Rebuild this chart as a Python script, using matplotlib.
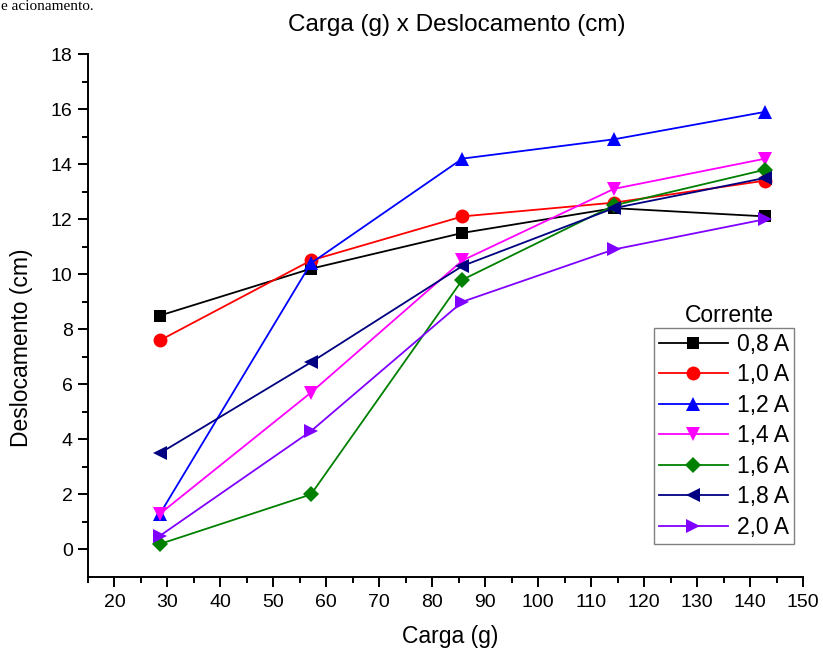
import matplotlib
matplotlib.use("Agg")
import matplotlib.pyplot as plt
from matplotlib.ticker import FixedLocator

plt.rcParams['font.family'] = ['Liberation Sans', 'DejaVu Sans']

carga = [28.6, 57.1, 85.7, 114.3, 142.9]
correntes = ['0,8 A', '1,0 A', '1,2 A', '1,4 A', '1,6 A', '1,8 A', '2,0 A']
d_08 = [8.5, 10.2, 11.5, 12.4, 12.1]
d_10 = [7.6, 10.5, 12.1, 12.6, 13.4]
d_12 = [1.3, 10.4, 14.2, 14.9, 15.9]
d_14 = [1.3, 5.7, 10.5, 13.1, 14.2]
d_16 = [0.2, 2.0, 9.8, 12.5, 13.8]
d_18 = [3.5, 6.8, 10.3, 12.4, 13.5]
d_20 = [0.5, 4.3, 9.0, 10.9, 12.0]
series = [d_08, d_10, d_12, d_14, d_16, d_18, d_20]

colors = ['#000000', '#FF0000', '#0000FF', '#FF00FF', '#008000', '#000080', '#8000FF']
markers = ['s', 'o', '^', 'v', 'D', '<', '>']
msizes = [8, 10, 10.5, 10.5, 8.5, 10.5, 10.5]

W, H = 823, 655
fig = plt.figure(figsize=(W / 100, H / 100), dpi=100)
ax = fig.add_axes([88 / W, 1 - 577 / H, (803 - 88) / W, (577 - 54) / H])

for lab, ys, c, m, ms in zip(correntes, series, colors, markers, msizes):
    ax.plot(carga, ys, color=c, marker=m, markersize=ms, linewidth=1.3,
            markeredgewidth=0, label=lab, clip_on=False)

ax.set_xlim(15, 150)
ax.set_ylim(-1, 18)
ax.xaxis.set_major_locator(FixedLocator(list(range(20, 151, 10))))
ax.xaxis.set_minor_locator(FixedLocator(list(range(15, 151, 10))))
ax.yaxis.set_major_locator(FixedLocator(list(range(0, 19, 2))))
ax.yaxis.set_minor_locator(FixedLocator(list(range(1, 18, 2))))

for s in ['top', 'right']:
    ax.spines[s].set_visible(False)
for s in ['left', 'bottom']:
    ax.spines[s].set_linewidth(1.4)

ax.tick_params(axis='both', which='major', direction='out', length=7, width=1.4,
               labelsize=14, pad=4)
ax.tick_params(axis='x', which='major', pad=5)
ax.tick_params(axis='both', which='minor', direction='out', length=4, width=1.4)

ax.set_xlabel('Carga (g)', fontsize=16.5)
ax.xaxis.set_label_coords((450 - 88) / (803 - 88), -(637 - 577) / (577 - 54))
ax.set_ylabel('Deslocamento (cm)', fontsize=16.5)
ax.yaxis.set_label_coords(-(88 - 22) / (803 - 88), (577 - 348) / (577 - 54))
ax.yaxis.label.set_verticalalignment('center')
ax.xaxis.label.set_verticalalignment('center')

fig.text(457 / W, 1 - 25 / H, 'Carga (g) x Deslocamento (cm)', fontsize=17.5,
         ha='center', va='center')

leg = ax.legend(loc='lower left', bbox_to_anchor=(654 / W, 1 - 544 / H),
                bbox_transform=fig.transFigure, borderaxespad=0, fontsize=16.5,
                handlelength=3.0, handletextpad=0.4, labelspacing=0.33,
                borderpad=0.22, fancybox=False, framealpha=1, edgecolor='#808080')
leg.get_frame().set_linewidth(1.0)
fig.text(729 / W, 1 - 316 / H, 'Corrente', fontsize=16.5, ha='center', va='center')

fig.text(1 / W, 1 - 10 / H, 'e acionamento.', fontsize=11,
         family=['Liberation Serif', 'DejaVu Serif'], ha='left', va='baseline')

fig.savefig('out.png', dpi=100)
